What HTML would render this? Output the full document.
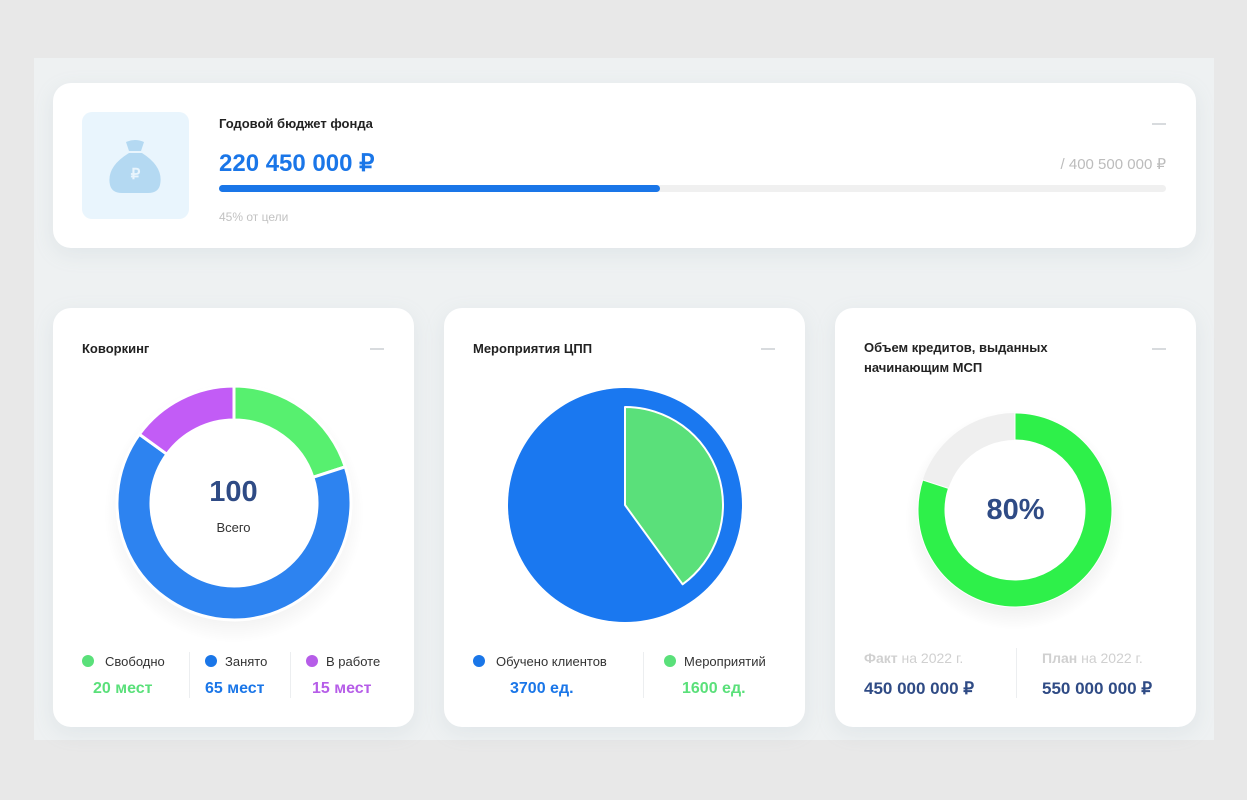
<!DOCTYPE html>
<html><head><meta charset="utf-8">
<style>
*{margin:0;padding:0;box-sizing:border-box}
body{width:1247px;height:800px;background:#e8e8e8;font-family:"Liberation Sans","Noto Sans CJK SC",sans-serif;position:relative;overflow:hidden}
.panel{position:absolute;left:34px;top:58px;width:1180px;height:682px;background:#eef1f2}
.card{position:absolute;background:#fff;border-radius:18px;box-shadow:0 6px 20px rgba(150,170,180,0.15)}
.t{position:absolute;white-space:nowrap}
.dash{position:absolute;width:14px;height:2px;background:#d8dbde}
.dot{position:absolute;width:12px;height:12px;border-radius:50%}
.div{position:absolute;width:1px;background:#eceef0}
</style></head><body>
<div class="panel"></div>

<div class="card" style="left:53px;top:83px;width:1143px;height:165px">
  <div style="position:absolute;left:29px;top:29px;width:107px;height:107px;background:#e9f5fd;border-radius:10px">
    <svg width="107" height="107"><path d="M44 30 q9-4 18 0 l-3 9 h-12z" fill="#b4d9f2"/><path d="M47 41 h13 q22 14 18 32 q-2 8-12 8 h-26 q-10 0-12-8 q-4-18 19-32z" fill="#b4d9f2"/><text x="53.5" y="67" font-size="15" font-weight="bold" fill="#e9f5fd" text-anchor="middle" font-family="Liberation Sans, sans-serif">₽</text></svg>
  </div>
  <div class="t" style="left:166px;top:33px;font-size:13px;font-weight:bold;color:#222">Годовой бюджет фонда</div>
  <div class="t" style="left:166px;top:66px;font-size:24px;font-weight:bold;color:#1a76e8">220 450 000 ₽</div>
  <div class="t" style="right:30px;top:72px;font-size:15px;color:#bcbcbc">/ 400 500 000 ₽</div>
  <div style="position:absolute;left:166px;top:102px;width:947px;height:7px;border-radius:4px;background:#f0f0f0"></div>
  <div style="position:absolute;left:166px;top:102px;width:441px;height:7px;border-radius:4px;background:#1a76e8"></div>
  <div class="t" style="left:166px;top:127px;font-size:12px;color:#c2c2c2">45% от цели</div>
  <div class="dash" style="left:1099px;top:40px"></div>
</div>

<div class="card" style="left:53px;top:308px;width:361px;height:419px">
  <div class="t" style="left:29px;top:33px;font-size:13px;font-weight:bold;color:#222">Коворкинг</div>
  <div class="dash" style="left:317px;top:40px"></div>
  <svg id="cw" width="361" height="320" style="position:absolute;left:0;top:60px"></svg>
  <div class="t" style="left:0;width:361px;text-align:center;top:168px;font-size:29px;font-weight:bold;color:#2f4b85">100</div>
  <div class="t" style="left:0;width:361px;text-align:center;top:212px;font-size:13px;color:#333">Всего</div>
  <div class="div" style="left:136px;top:344px;height:46px"></div>
  <div class="div" style="left:237px;top:344px;height:46px"></div>
  <div class="dot" style="left:29px;top:347px;background:#5ae07a"></div>
  <div class="t" style="left:52px;top:346px;font-size:13px;color:#333">Свободно</div>
  <div class="t" style="left:40px;top:372px;font-size:16px;font-weight:bold;color:#5ae07a">20 мест</div>
  <div class="dot" style="left:152px;top:347px;background:#1a76e8"></div>
  <div class="t" style="left:172px;top:346px;font-size:13px;color:#333">Занято</div>
  <div class="t" style="left:152px;top:372px;font-size:16px;font-weight:bold;color:#1a76e8">65 мест</div>
  <div class="dot" style="left:253px;top:347px;background:#b65de8"></div>
  <div class="t" style="left:273px;top:346px;font-size:13px;color:#333">В работе</div>
  <div class="t" style="left:259px;top:372px;font-size:16px;font-weight:bold;color:#b65de8">15 мест</div>
</div>

<div class="card" style="left:444px;top:308px;width:361px;height:419px">
  <div class="t" style="left:29px;top:33px;font-size:13px;font-weight:bold;color:#222">Мероприятия ЦПП</div>
  <div class="dash" style="left:317px;top:40px"></div>
  <svg id="ev" width="361" height="320" style="position:absolute;left:0;top:60px"></svg>
  <div class="div" style="left:199px;top:344px;height:46px"></div>
  <div class="dot" style="left:29px;top:347px;background:#1a76e8"></div>
  <div class="t" style="left:52px;top:346px;font-size:13px;color:#333">Обучено клиентов</div>
  <div class="t" style="left:66px;top:372px;font-size:16px;font-weight:bold;color:#1a76e8">3700 ед.</div>
  <div class="dot" style="left:220px;top:347px;background:#5ae07a"></div>
  <div class="t" style="left:240px;top:346px;font-size:13px;color:#333">Мероприятий</div>
  <div class="t" style="left:238px;top:372px;font-size:16px;font-weight:bold;color:#5ae07a">1600 ед.</div>
</div>

<div class="card" style="left:835px;top:308px;width:361px;height:419px">
  <div class="t" style="left:29px;top:30px;font-size:13px;font-weight:bold;color:#222;line-height:20px">Объем кредитов, выданных<br>начинающим МСП</div>
  <div class="dash" style="left:317px;top:40px"></div>
  <svg id="cr" width="361" height="320" style="position:absolute;left:0;top:60px"></svg>
  <div class="t" style="left:0;width:361px;text-align:center;top:186px;font-size:29px;font-weight:bold;color:#2f4b85">80%</div>
  <div class="div" style="left:181px;top:340px;height:50px"></div>
  <div class="t" style="left:29px;top:342px;font-size:14px;color:#d0d0d0"><b>Факт</b> на 2022 г.</div>
  <div class="t" style="left:29px;top:371px;font-size:17px;font-weight:bold;color:#2f4b85">450 000 000 ₽</div>
  <div class="t" style="left:207px;top:342px;font-size:14px;color:#d0d0d0"><b>План</b> на 2022 г.</div>
  <div class="t" style="left:207px;top:371px;font-size:17px;font-weight:bold;color:#2f4b85">550 000 000 ₽</div>
</div>

<script>
const cwCategories=["Свободно","Занято","В работе"];
const cwValues=[20,65,15];
const cwColors=["#57f06f","#2d83f0","#c25cf6"];
const evCategories=["Обучено клиентов","Мероприятий"];
const evShares=[60,40];
const crValue=[80];
const NS="http://www.w3.org/2000/svg";
function pt(cx,cy,r,a){const t=(a-90)*Math.PI/180;return [cx+r*Math.cos(t),cy+r*Math.sin(t)];}
function arcPath(cx,cy,ro,ri,a0,a1){
  const large=(a1-a0)>180?1:0;const p0=pt(cx,cy,ro,a0),p1=pt(cx,cy,ro,a1);
  if(ri<=0)return `M${cx},${cy}L${p0[0]},${p0[1]}A${ro},${ro} 0 ${large} 1 ${p1[0]},${p1[1]}Z`;
  const q1=pt(cx,cy,ri,a1),q0=pt(cx,cy,ri,a0);
  return `M${p0[0]},${p0[1]}A${ro},${ro} 0 ${large} 1 ${p1[0]},${p1[1]}L${q1[0]},${q1[1]}A${ri},${ri} 0 ${large} 0 ${q0[0]},${q0[1]}Z`;}
function el(svg,tag,attrs){const e=document.createElementNS(NS,tag);for(const k in attrs)e.setAttribute(k,attrs[k]);svg.appendChild(e);return e;}
function shadow(svg,cx,cy,r,id){
  const d=el(svg,"defs",{});d.innerHTML=`<radialGradient id="${id}"><stop offset="70%" stop-color="#000" stop-opacity="0.08"/><stop offset="100%" stop-color="#000" stop-opacity="0"/></radialGradient>`;
  el(svg,"circle",{cx:cx,cy:cy+10,r:r,fill:`url(#${id})`});}
// coworking
(function(){const s=document.getElementById("cw");const cx=181,cy=135;
  shadow(s,cx,cy,130,"sh1");
  el(s,"circle",{cx:cx,cy:cy,r:84,fill:"#fff"});
  const tot=cwValues.reduce((a,b)=>a+b,0);let a=0;
  cwValues.forEach((v,i)=>{const a1=a+v/tot*360;
    const p=el(s,"path",{d:arcPath(cx,cy,117,83,a,a1),fill:cwColors[i],stroke:"#fff","stroke-width":3,"stroke-linejoin":"round"});
    
    
    a=a1;});})();
// events
(function(){const s=document.getElementById("ev");const cx=181,cy=137;
  const tot=evShares.reduce((a,b)=>a+b,0);const gA=evShares[1]/tot*360;
  const b=el(s,"circle",{cx:cx,cy:cy,r:117,fill:"#1a78f0"});
  
  
  const g=el(s,"path",{d:arcPath(cx,cy,98,0,0,gA),fill:"#5ae07a",stroke:"#fff","stroke-width":2,"stroke-linejoin":"round"});
  
  })();
// credits
(function(){const s=document.getElementById("cr");const cx=180,cy=142;
  shadow(s,cx,cy,110,"sh2");
  el(s,"circle",{cx:cx,cy:cy,r:71,fill:"#fff"});
  const t=el(s,"circle",{cx:cx,cy:cy,r:83.5,fill:"none",stroke:"#efefef","stroke-width":27});
  
  
  const p=el(s,"path",{d:arcPath(cx,cy,97,70,0,crValue[0]/100*360),fill:"#2ef04a",stroke:"#fff","stroke-width":1});
  
  })();
</script>
</body></html>
